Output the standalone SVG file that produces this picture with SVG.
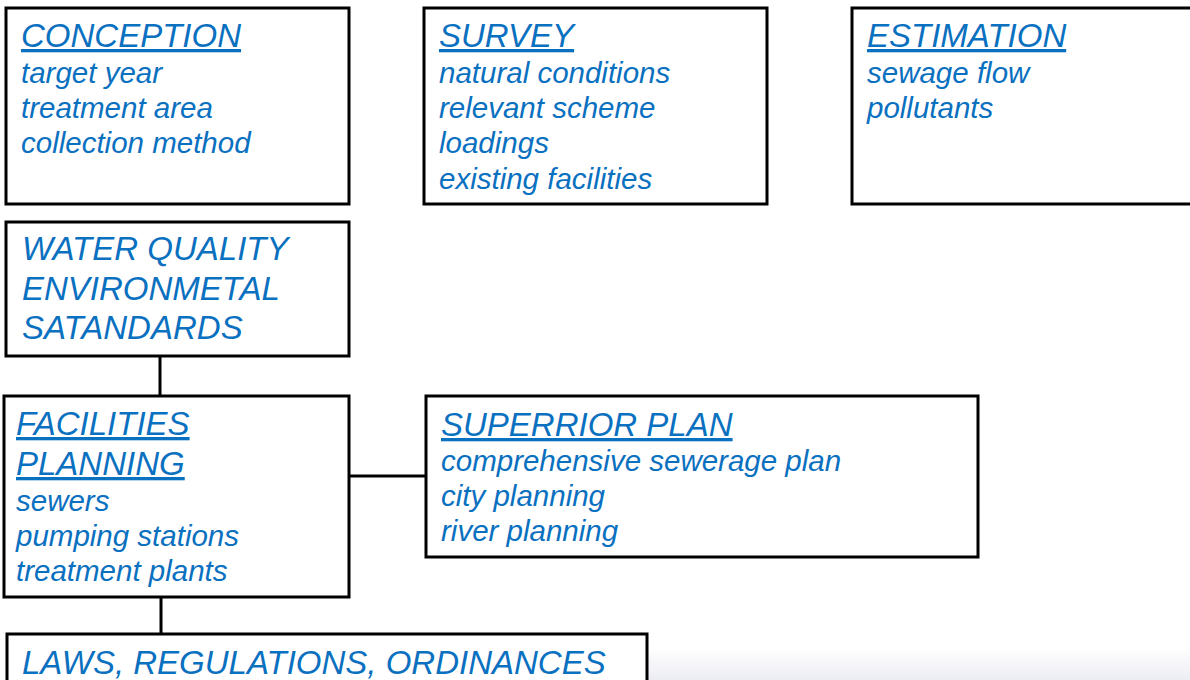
<svg xmlns="http://www.w3.org/2000/svg" width="1190" height="680" viewBox="0 0 1190 680">
<style>
.box{fill:#fff;stroke:#000;stroke-width:3}
.t{font-family:"Liberation Sans",Arial,sans-serif;font-style:italic;fill:#0A70C0}
.h{font-size:33px}
.u{text-decoration:underline}
.i{font-size:29.5px}
.c{stroke:#000;stroke-width:3;fill:none}
</style>
<defs>
<linearGradient id="fade" x1="0" y1="0" x2="0" y2="1">
<stop offset="0" stop-color="#ffffff"/>
<stop offset="1" stop-color="#ececf4"/>
</linearGradient>
</defs>
<rect x="0" y="0" width="1190" height="680" fill="#fff"/>
<rect x="648" y="648" width="542" height="32" fill="url(#fade)"/>
<g id="connectors">
<line class="c" x1="160" y1="356" x2="160" y2="396"/>
<line class="c" x1="349" y1="476" x2="426" y2="476"/>
<line class="c" x1="161" y1="597" x2="161" y2="634"/>
</g>
<g id="conception">
<rect class="box" x="6" y="8" width="343" height="196"/>
<text class="t h u" x="21" y="47">CONCEPTION</text>
<text class="t i" x="21" y="83">target year</text>
<text class="t i" x="21" y="118">treatment area</text>
<text class="t i" x="21" y="153">collection method</text>
</g>
<g id="survey">
<rect class="box" x="424" y="8" width="343" height="196"/>
<text class="t h u" x="439" y="47">SURVEY</text>
<text class="t i" x="439" y="83">natural conditions</text>
<text class="t i" x="439" y="118">relevant scheme</text>
<text class="t i" x="439" y="153">loadings</text>
<text class="t i" x="439" y="189">existing facilities</text>
</g>
<g id="estimation">
<rect class="box" x="852" y="8" width="340" height="196"/>
<text class="t h u" x="867" y="47">ESTIMATION</text>
<text class="t i" x="867" y="83">sewage flow</text>
<text class="t i" x="867" y="118">pollutants</text>
</g>
<g id="water-quality">
<rect class="box" x="6" y="222" width="343" height="134"/>
<text class="t h" x="22" y="260">WATER QUALITY</text>
<text class="t h" x="22" y="300">ENVIRONMETAL</text>
<text class="t h" x="22" y="339">SATANDARDS</text>
</g>
<g id="facilities-planning">
<rect class="box" x="4" y="396" width="345" height="201"/>
<text class="t h u" x="16" y="435">FACILITIES</text>
<text class="t h u" x="16" y="475">PLANNING</text>
<text class="t i" x="16" y="511">sewers</text>
<text class="t i" x="16" y="546">pumping stations</text>
<text class="t i" x="16" y="581">treatment plants</text>
</g>
<g id="superior-plan">
<rect class="box" x="426" y="396" width="552" height="161"/>
<text class="t h u" x="441" y="436">SUPERRIOR PLAN</text>
<text class="t i" x="441" y="471">comprehensive sewerage plan</text>
<text class="t i" x="441" y="506">city planning</text>
<text class="t i" x="441" y="541">river planning</text>
</g>
<g id="laws">
<rect class="box" x="7" y="634" width="640" height="60"/>
<text class="t h" x="22" y="674">LAWS, REGULATIONS, ORDINANCES</text>
</g>
</svg>
